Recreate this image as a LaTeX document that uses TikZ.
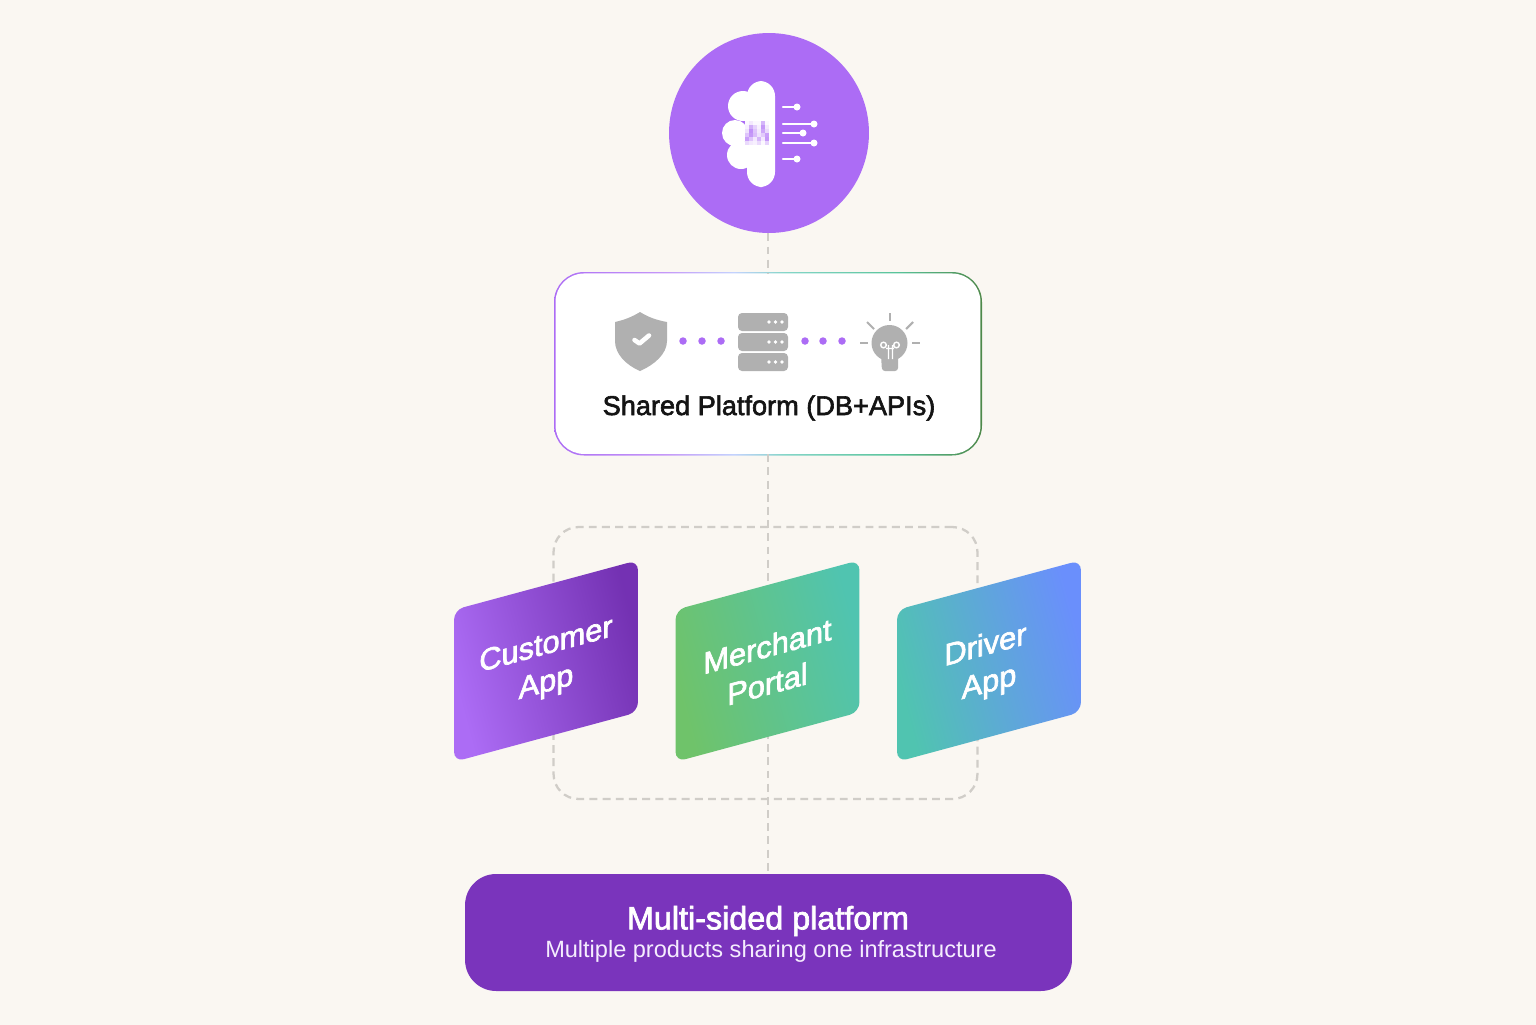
\documentclass[tikz,border=0pt]{standalone}
\usepackage{fontspec}
\setmainfont{Liberation Sans}
\newfontfamily\medfont[FakeBold=2.2]{Liberation Sans}
\usepackage{xcolor}
\usetikzlibrary{positioning,shapes.geometric,calc}
\definecolor{paper}{HTML}{FAF7F2}
\definecolor{violet}{HTML}{AC6CF5}
\definecolor{deepviolet}{HTML}{7A34BC}
\definecolor{leaf}{HTML}{6FC36A}
\definecolor{teal}{HTML}{50C4B0}
\definecolor{skyblue}{HTML}{6A8FFC}
\definecolor{dashgray}{HTML}{D0CDC8}
\definecolor{icongray}{HTML}{B0B0B0}
\pgfdeclarehorizontalshading{rimshade}{100bp}{
    color(0bp)=(violet); color(25bp)=(violet); color(38bp)=(violet!70!white); color(46bp)=(skyblue!40!white);
    color(52bp)=(teal!70!white); color(65bp)=(teal!70!leaf); color(75bp)=(leaf!70!black); color(100bp)=(leaf!70!black)}
\newcommand{\cardtext}[2]{\rule{0pt}{17.2pt}#1\\#2}
\tikzset{
    guideline/.style={draw=dashgray, line width=1.3pt, dash pattern=on 4.5pt off 3pt},
    cardbox/.style={rectangle, rounded corners=0.2cm, minimum width=3.68cm, minimum height=3.04cm,
        inner sep=0pt, yslant=0.27, transform shape, align=center, text=white,
        font=\medfont\fontsize{17.5}{21.5}\selectfont},
    iconline/.style={white, line width=1.4pt, line cap=round},
    rayline/.style={icongray, line width=1.2pt},
    flowdot/.style={circle, fill=violet, minimum size=0.15cm, inner sep=0pt},
}

\begin{document}
\begin{tikzpicture}[x=0.02cm, y=-0.02cm]
    \useasboundingbox (0,0) rectangle (1536,1025);
    \fill[paper] (0,0) rectangle (1536,1025);

    % top, middle and bottom blocks
    \node[circle, fill=violet, minimum size=4cm, inner sep=0pt] (brain) at (769,133) {};

    \shade[shading=rimshade, rounded corners=0.6cm] (554,272) rectangle (982,455.5);
    \node[rectangle, fill=white, rounded corners=0.57cm, minimum width=8.5cm, minimum height=3.61cm,
        inner sep=0pt] (platform) at (768,363.7) {};
    \node[font=\medfont\fontsize{15.45}{18}\selectfont, text=black!92] (platformlabel) at (769,408) {Shared Platform (DB+APIs)};

    \node[rectangle, fill=deepviolet, rounded corners=0.62cm, minimum width=12.14cm, minimum height=2.34cm,
        inner sep=0pt] (sided) at (768.5,932.5) {};
    \node[font=\medfont\fontsize{18.4}{20}\selectfont, text=white] (sidedtitle) at (768,921) {Multi-sided platform};
    \node[font=\fontsize{13.4}{16}\selectfont, text=violet!12!white] (sidedsub) at (771,951) {Multiple products sharing one infrastructure};

    % dashed guides
    \draw[guideline] (platform.north |- brain.south) -- (platform);
    \draw[guideline] (platform) -- (platform |- sided.north);
    \node[guideline, rectangle, rounded corners=0.5cm, minimum width=8.48cm, minimum height=5.44cm,
        inner sep=0pt] (appframe) at (765.5,663) {};

    % product cards
    \node[cardbox, left color=violet, right color=deepviolet!95!black, shading angle=105] (customer) at (546,661) {\cardtext{Customer}{App}};
    \node[cardbox, left color=leaf, right color=teal, shading angle=105] (merchant) at (767.5,661) {\cardtext{Merchant}{Portal}};
    \node[cardbox, left color=teal, right color=skyblue, shading angle=105] (driver) at (989,661) {\cardtext{\mbox{Driver\kern4pt}}{App}};

    % brain icon
    \fill[white] (743,106) circle (15);
    \fill[white] (735,133) circle (13);
    \fill[white] (741,155) circle (14);
    \fill[white] (745,105) rectangle (775,165);
    \fill[white, rounded corners=0.3cm] (747,81) rectangle (775,187);
    \foreach \row/\shades in {0/{5,15,5,5,50,5}, 1/{10,55,30,10,70,15}, 2/{20,75,40,15,60,25},
        3/{40,70,45,20,35,65}, 4/{65,40,15,50,15,70}, 5/{25,15,10,25,5,30}} {
        \foreach \shd [count=\col from 0] in \shades {
            \fill[violet!\shd!white] ({745+\col*4},{121+\row*4}) rectangle +(4,4);
        }
    }
    \foreach \yy/\xx in {107/797, 124/814, 133/803, 143/814, 159/797} {
        \draw[iconline] (783,\yy) -- (\xx,\yy);
        \fill[white] (\xx,\yy) circle (3.5);
    }

    % shield icon
    \fill[icongray] (640,312) .. controls (632,317) and (624,320) .. (615,322)
        -- (615,341) .. controls (615,354) and (626,365) .. (640,371)
        .. controls (654,365) and (667,354) .. (667,341) -- (667,322)
        .. controls (656,320) and (648,317) .. (640,312) -- cycle;
    \draw[white, line width=2.6pt, line cap=round, line join=round] (634.5,340) -- (639.5,343.5) -- (649,335.5);

    % dots between icons
    \foreach \xx [count=\i] in {683,702,721,805,823,842} {
        \node[flowdot] (flow\i) at (\xx,341) {};
    }

    % server icon
    \foreach \yy in {322,342,362} {
        \fill[icongray, rounded corners=0.08cm] (738,\yy-9) rectangle (788,\yy+9);
        \foreach \xx in {769,775.5,782} {
            \fill[white] (\xx,\yy) circle (1.8);
        }
    }

    % bulb icon
    \fill[icongray] (889.5,343) circle (18);
    \fill[icongray, rounded corners=0.06cm] (881,355) -- (898,355) -- (898,371) -- (882,371) -- cycle;
    \draw[white, line width=0.8pt] (883.5,345) circle (2.8) (896.5,345) circle (2.8)
        (886,348.5) -- (894,348.5) (888.5,345) -- (888.5,359) (892.5,345) -- (892.5,359);
    \draw[rayline] (890,313) -- (890,321);
    \draw[rayline] (867,322) -- (874,329);
    \draw[rayline] (913,322) -- (906,329);
    \draw[rayline] (860,343) -- (868,343);
    \draw[rayline] (912,343) -- (920,343);
\end{tikzpicture}
\end{document}
